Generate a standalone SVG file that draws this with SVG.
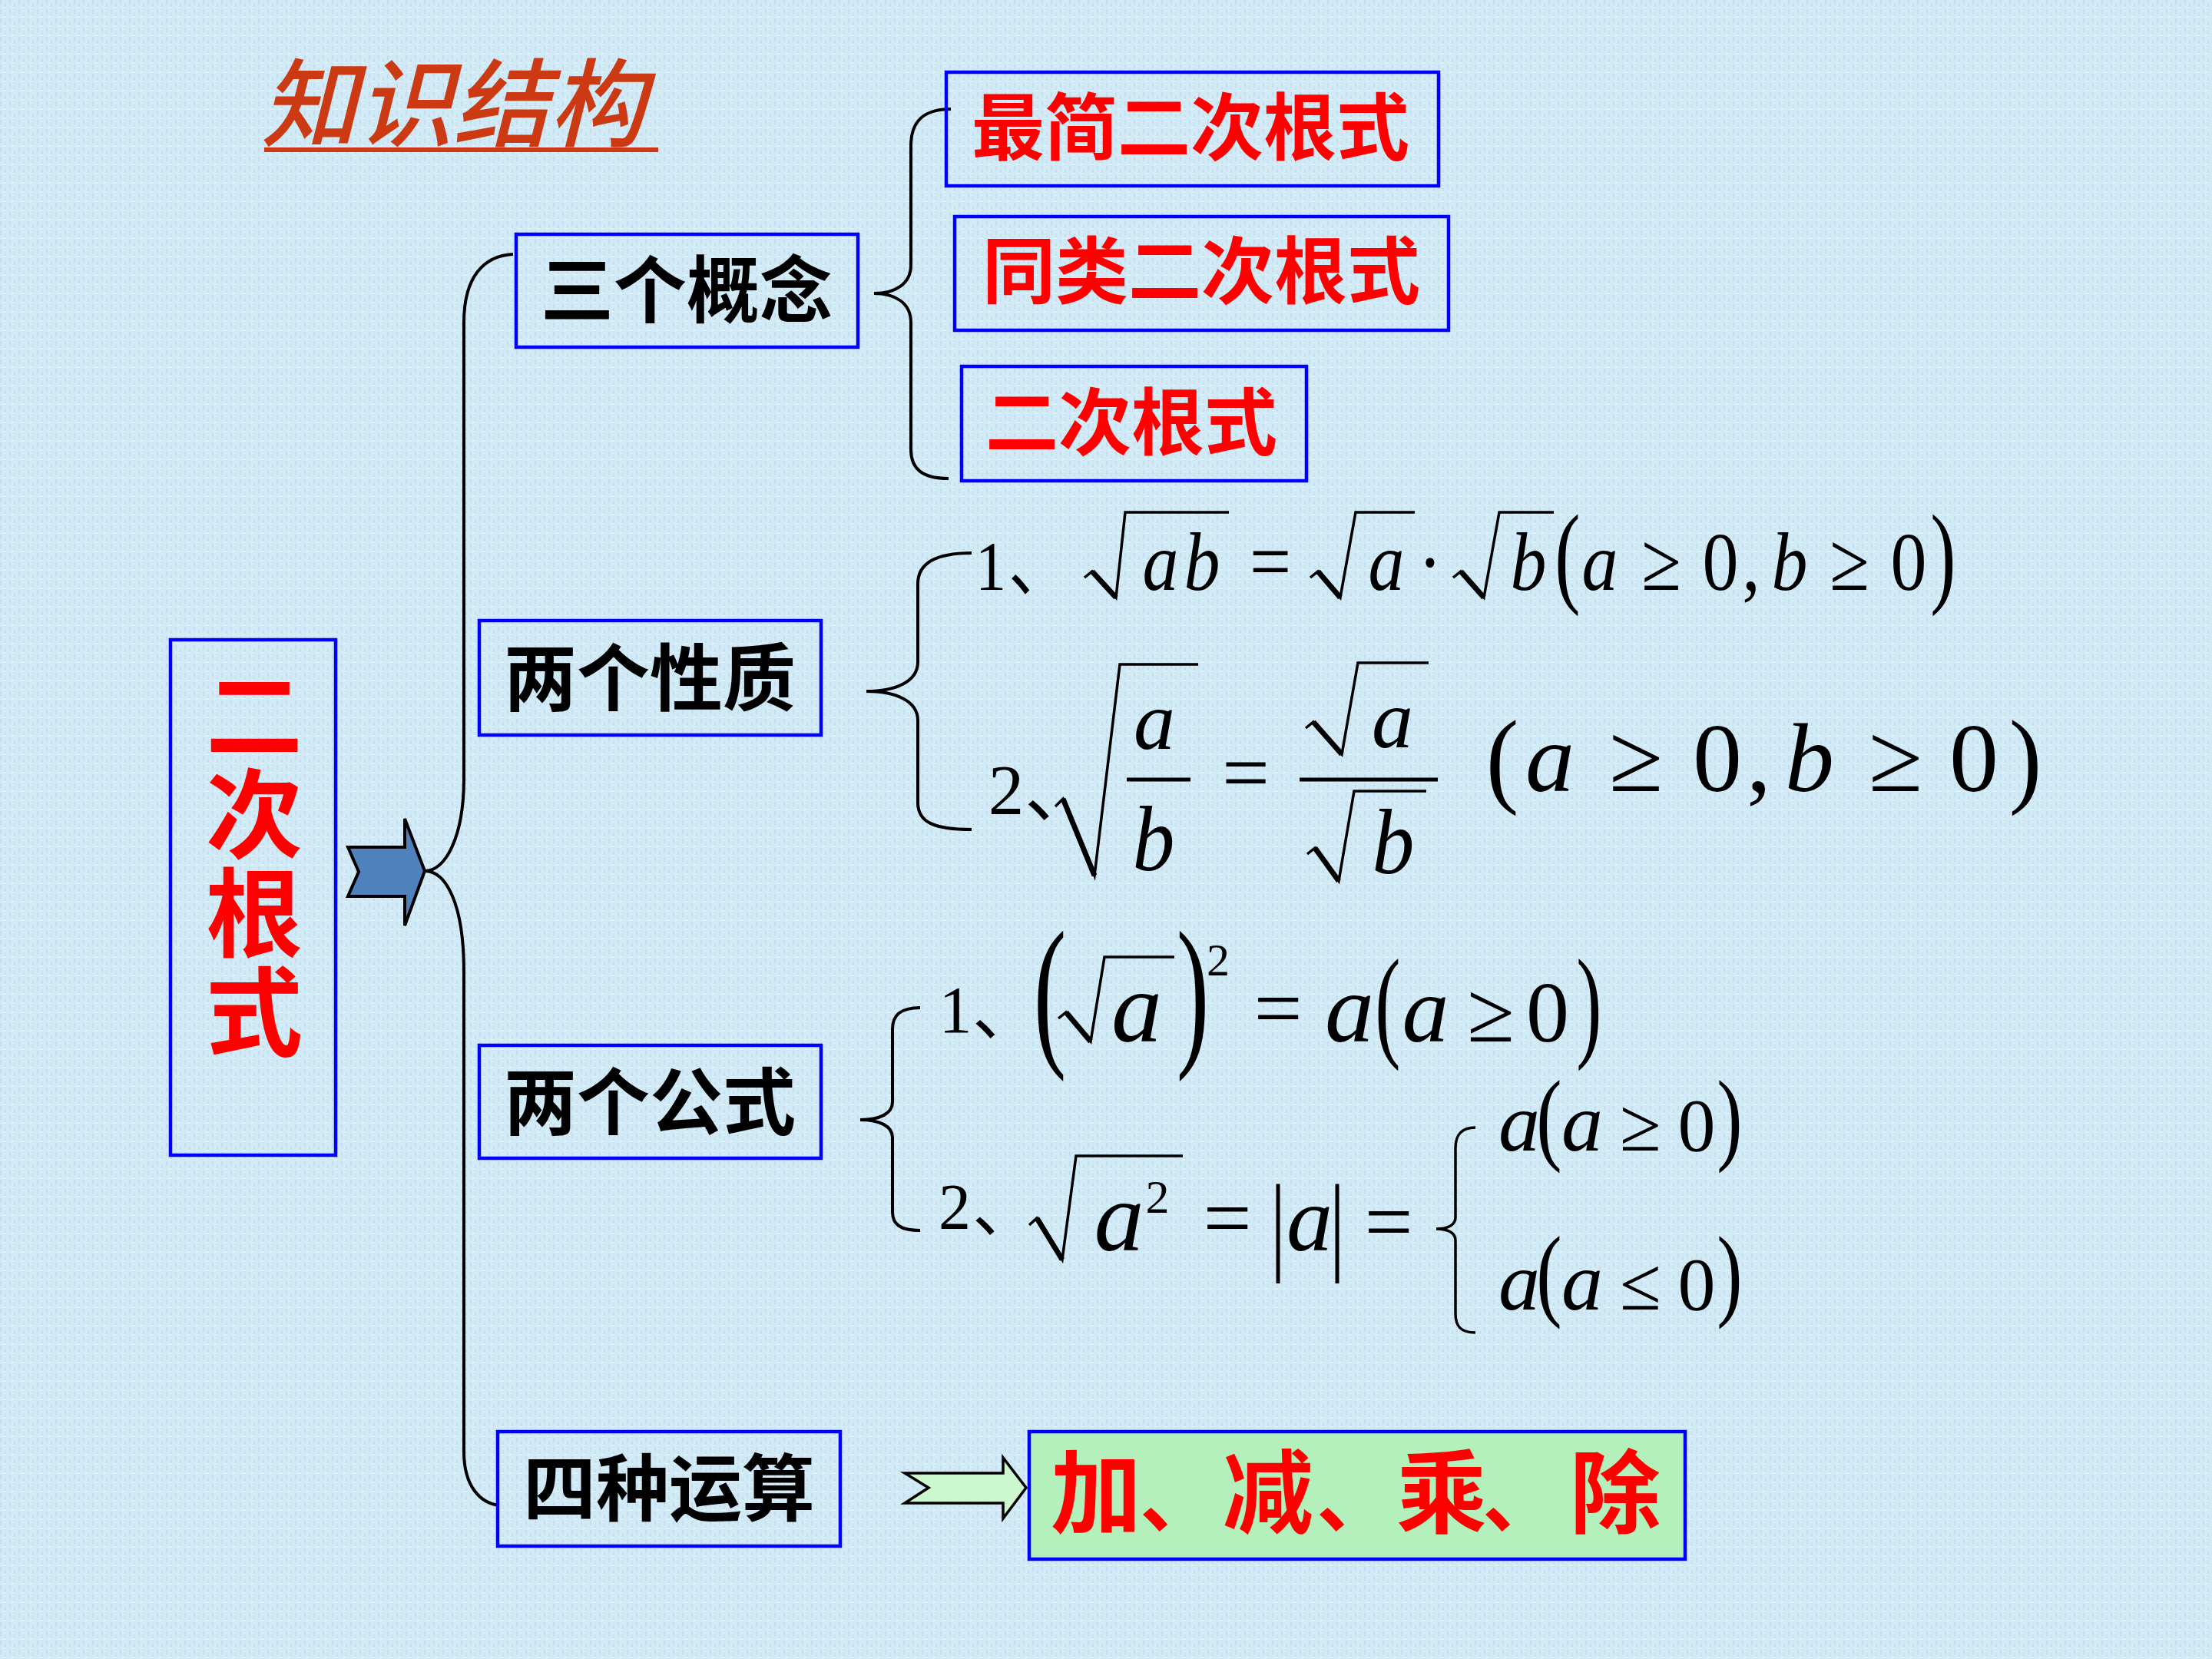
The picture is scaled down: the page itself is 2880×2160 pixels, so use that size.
<svg xmlns="http://www.w3.org/2000/svg" width="2880" height="2160" viewBox="0 0 2880 2160">
<defs>
<pattern id="tex" width="12" height="12" patternUnits="userSpaceOnUse">
<rect width="12" height="12" fill="#d1eaf5"/>
<rect x="0" y="0" width="2" height="6" fill="#c2def0"/>
<rect x="6" y="5" width="2" height="7" fill="#c4e0ef"/>
<rect x="3" y="9" width="5" height="2" fill="#dcf2fa"/>
</pattern>
<style>
.box{fill:none;stroke:#0000ff;stroke-width:4.5}
.lbl{font-family:"Noto Sans CJK SC",sans-serif;font-weight:700;font-size:95px;text-anchor:middle}
.red{fill:#ff0000}
.blk{fill:#000000}
.vert{writing-mode:vertical-rl;font-size:126px;letter-spacing:3px}
.m{font-family:"Liberation Serif","Noto Sans CJK SC",serif;fill:#000;text-anchor:middle}
.i{font-style:italic}
.cjk{font-family:"Noto Sans CJK SC",sans-serif;fill:#000;text-anchor:start}
.br{fill:none;stroke:#000;stroke-width:4}
.rad{fill:none;stroke:#000;stroke-width:3.5;stroke-linejoin:miter}
.radt{stroke:#000;stroke-width:7}
.bar{stroke:#000;stroke-width:5}
</style>
</defs>
<rect width="2880" height="2160" fill="url(#tex)"/>

<g id="title">
<text x="340" y="181" font-family="Noto Sans CJK SC, sans-serif" font-size="125" font-style="italic" font-weight="500" fill="#cc3a14">知识结构</text>
<rect x="344" y="192" width="513" height="6" fill="#cc3a14"/>
</g>

<g id="connectors">
<path class="br" d="M 668 331 C 630 333 604 360 604 420 L 604 1013 C 604 1090 580 1134 553 1134 C 580 1134 604 1175 604 1265 L 604 1890 C 604 1935 625 1957 650 1960"/>
<path class="br" d="M 1238 142 C 1200 142 1186 160 1186 190 L 1186 345 C 1186 370 1165 382 1138 382 C 1165 382 1186 394 1186 420 L 1186 585 C 1186 610 1200 623 1235 623"/>
<path class="br" d="M 1265 720 C 1215 720 1195 735 1195 760 L 1195 862 C 1195 888 1165 900 1128 900 C 1165 900 1195 912 1195 938 L 1195 1045 C 1195 1070 1215 1080 1265 1080"/>
<path class="br" d="M 1198 1312 C 1172 1312 1162 1322 1162 1340 L 1162 1435 C 1162 1450 1145 1458 1120 1458 C 1145 1458 1162 1466 1162 1481 L 1162 1578 C 1162 1594 1172 1602 1198 1602"/>
<path id="arrow-main" d="M 453 1103 L 527 1103 L 527 1066 L 553 1134 L 527 1205 L 527 1167 L 453 1167 L 467 1135 Z" fill="#4f81bd" stroke="#000" stroke-width="4" stroke-linejoin="miter"/>
<path id="arrow-ops" d="M 1178 1918 L 1306 1918 L 1306 1898 L 1336 1937 L 1306 1977 L 1306 1957 L 1178 1957 L 1209 1937 Z" fill="#ccf7cf" stroke="#000" stroke-width="3.5"/>
</g>

<g id="node-root">
<rect class="box" x="222" y="833" width="215" height="671"/>
<text class="lbl red vert" x="331" y="1125">二次根式</text>
</g>

<g id="node-concepts">
<rect class="box" x="672" y="305" width="445" height="147"/>
<text class="lbl blk" x="894" y="413">三个概念</text>
</g>
<g id="node-properties">
<rect class="box" x="624" y="808" width="445" height="149"/>
<text class="lbl blk" x="846" y="918">两个性质</text>
</g>
<g id="node-formulas">
<rect class="box" x="624" y="1361" width="445" height="147"/>
<text class="lbl blk" x="846" y="1470">两个公式</text>
</g>
<g id="node-operations">
<rect class="box" x="648" y="1864" width="446" height="149"/>
<text class="lbl blk" x="871" y="1973">四种运算</text>
</g>

<g id="node-simplest">
<rect class="box" x="1232" y="94" width="641" height="148"/>
<text class="lbl red" x="1550" y="201">最简二次根式</text>
</g>
<g id="node-similar">
<rect class="box" x="1243" y="282" width="643" height="148"/>
<text class="lbl red" x="1564" y="388">同类二次根式</text>
</g>
<g id="node-quadratic-radical">
<rect class="box" x="1252" y="477" width="449" height="149"/>
<text class="lbl red" x="1473" y="585">二次根式</text>
</g>

<g id="node-ops-result">
<rect x="1340" y="1864" width="854" height="166" fill="#b3f0bb" stroke="#0000ff" stroke-width="4.5"/>
<text class="red" font-family="Noto Sans CJK SC, sans-serif" font-weight="700" font-size="118" y="1987"><tspan x="1368">加</tspan><tspan x="1484" font-size="100">、</tspan><tspan x="1592">减</tspan><tspan x="1714" font-size="100">、</tspan><tspan x="1818">乘</tspan><tspan x="1930" font-size="100">、</tspan><tspan x="2044">除</tspan></text>
</g>

<g id="formula-property-1">
<g transform="translate(0,768) scale(1,1.15)">
<text class="m" x="1290" y="0" font-size="80">1</text>
<text class="cjk" x="1313" y="0" font-size="80">、</text>
<text class="m i" x="1511" y="0" font-size="94">a</text>
<text class="m i" x="1565" y="0" font-size="94">b</text>
<text class="m" x="1654" y="0" font-size="96">=</text>
<text class="m i" x="1805" y="0" font-size="94">a</text>
<text class="m" x="1862" y="0" font-size="94">·</text>
<text class="m i" x="1990" y="0" font-size="94">b</text>
<text class="m i" x="2083" y="0" font-size="94">a</text>
<text class="m" x="2163" y="0" font-size="94">≥</text>
<text class="m" x="2240" y="0" font-size="94">0</text>
<text class="m" x="2280" y="0" font-size="94">,</text>
<text class="m i" x="2330" y="0" font-size="94">b</text>
<text class="m" x="2408" y="0" font-size="94">≥</text>
<text class="m" x="2485" y="0" font-size="94">0</text>
</g>
<text class="m" transform="translate(2041,771) scale(1,1.465)" font-size="100">(</text>
<text class="m" transform="translate(2530,771) scale(1,1.465)" font-size="100">)</text>
<path class="rad" d="M 1412 752 L 1422 744 L 1453 778 L 1465 667 L 1600 667"/>
<line class="radt" x1="1422" y1="744" x2="1453" y2="778"/>
<path class="rad" d="M 1706 752 L 1716 744 L 1745 778 L 1765 667 L 1842 667"/>
<line class="radt" x1="1716" y1="744" x2="1745" y2="778"/>
<path class="rad" d="M 1892 752 L 1902 744 L 1932 778 L 1952 667 L 2023 667"/>
<line class="radt" x1="1902" y1="744" x2="1932" y2="778"/>
</g>

<g id="formula-property-2">
<text class="m" x="1310" y="1060" font-size="93">2</text>
<text class="cjk" x="1334" y="1063" font-size="93">、</text>
<path class="rad" d="M 1374 1050 L 1384 1040 L 1425 1140 L 1458 865 L 1560 865"/>
<line class="radt" x1="1384" y1="1040" x2="1425" y2="1140"/>
<text class="m i" x="1503" y="975" font-size="108">a</text>
<line class="bar" x1="1467" y1="1015" x2="1550" y2="1015"/>
<text class="m i" transform="translate(1502,1133) scale(1,1.1)" font-size="110">b</text>
<text class="m" x="1622" y="1043" font-size="110">=</text>
<path class="rad" d="M 1700 948 L 1710 940 L 1747 982 L 1768 863 L 1860 863"/>
<line class="radt" x1="1710" y1="940" x2="1747" y2="982"/>
<text class="m i" x="1813" y="973" font-size="108">a</text>
<line class="bar" x1="1692" y1="1015" x2="1872" y2="1015"/>
<path class="rad" d="M 1702 1112 L 1712 1104 L 1743 1147 L 1763 1030 L 1857 1030"/>
<line class="radt" x1="1712" y1="1104" x2="1743" y2="1147"/>
<text class="m i" transform="translate(1814,1137) scale(1,1.1)" font-size="110">b</text>
<text class="m" transform="translate(1956,1033) scale(1,1.07)" font-size="128">(</text>
<text class="m i" x="2018" y="1030" font-size="128">a</text>
<text class="m" x="2130" y="1030" font-size="128">≥</text>
<text class="m" x="2236" y="1030" font-size="128">0</text>
<text class="m" x="2290" y="1030" font-size="128">,</text>
<text class="m i" x="2356" y="1030" font-size="128">b</text>
<text class="m" x="2468" y="1030" font-size="128">≥</text>
<text class="m" x="2570" y="1030" font-size="128">0</text>
<text class="m" transform="translate(2637,1033) scale(1,1.07)" font-size="128">)</text>
</g>

<g id="formula-formula-1">
<text class="m" x="1244" y="1344" font-size="86">1</text>
<text class="cjk" x="1266" y="1347" font-size="86">、</text>
<text class="m" transform="translate(1367,1362) scale(1,1.687)" font-size="128">(</text>
<path class="rad" d="M 1378 1326 L 1388 1318 L 1420 1356 L 1438 1246 L 1529 1246"/>
<line class="radt" x1="1388" y1="1318" x2="1420" y2="1356"/>
<text class="m i" x="1480" y="1356" font-size="132">a</text>
<text class="m" transform="translate(1553,1362) scale(1,1.687)" font-size="128">)</text>
<text class="m" x="1586" y="1270" font-size="60">2</text>
<text class="m" x="1664" y="1350" font-size="112">=</text>
<text class="m i" x="1757" y="1356" font-size="128">a</text>
<text class="m" transform="translate(1807,1360) scale(1,1.606)" font-size="100">(</text>
<text class="m i" x="1856" y="1356" font-size="122">a</text>
<text class="m" x="1941" y="1356" font-size="112">≥</text>
<text class="m" x="2015" y="1356" font-size="112">0</text>
<text class="m" transform="translate(2069,1360) scale(1,1.606)" font-size="100">)</text>
</g>

<g id="formula-formula-2">
<text class="m" x="1243" y="1600" font-size="84">2</text>
<text class="cjk" x="1266" y="1603" font-size="84">、</text>
<path class="rad" d="M 1340 1595 L 1350 1586 L 1383 1640 L 1401 1505 L 1540 1505"/>
<line class="radt" x1="1350" y1="1586" x2="1383" y2="1640"/>
<text class="m i" x="1457" y="1628" font-size="130">a</text>
<text class="m" x="1507" y="1579" font-size="62">2</text>
<text class="m" x="1598" y="1623" font-size="112">=</text>
<text class="m" transform="translate(1664,1641) scale(1,1.41)" font-size="100">|</text>
<text class="m i" x="1705" y="1628" font-size="120">a</text>
<text class="m" transform="translate(1741,1641) scale(1,1.41)" font-size="100">|</text>
<text class="m" x="1808" y="1628" font-size="112">=</text>
<path d="M 1921 1468 C 1902 1468 1895 1478 1895 1495 L 1895 1585 C 1895 1595 1885 1600 1870 1600 C 1885 1600 1895 1605 1895 1615 L 1895 1710 C 1895 1727 1902 1735 1921 1735" fill="none" stroke="#000" stroke-width="3.5"/>
<text class="m i" x="1978" y="1498" font-size="108">a</text>
<text class="m" transform="translate(2017,1499) scale(1,1.336)" font-size="100">(</text>
<text class="m i" x="2060" y="1498" font-size="108">a</text>
<text class="m" x="2136" y="1498" font-size="98">≥</text>
<text class="m" x="2209" y="1498" font-size="98">0</text>
<text class="m" transform="translate(2252,1499) scale(1,1.336)" font-size="100">)</text>
<text class="m i" x="1978" y="1705" font-size="108">a</text>
<text class="m" transform="translate(2017,1702) scale(1,1.336)" font-size="100">(</text>
<text class="m i" x="2060" y="1705" font-size="108">a</text>
<text class="m" x="2136" y="1705" font-size="98">≤</text>
<text class="m" x="2209" y="1705" font-size="98">0</text>
<text class="m" transform="translate(2252,1702) scale(1,1.336)" font-size="100">)</text>
</g>
</svg>
